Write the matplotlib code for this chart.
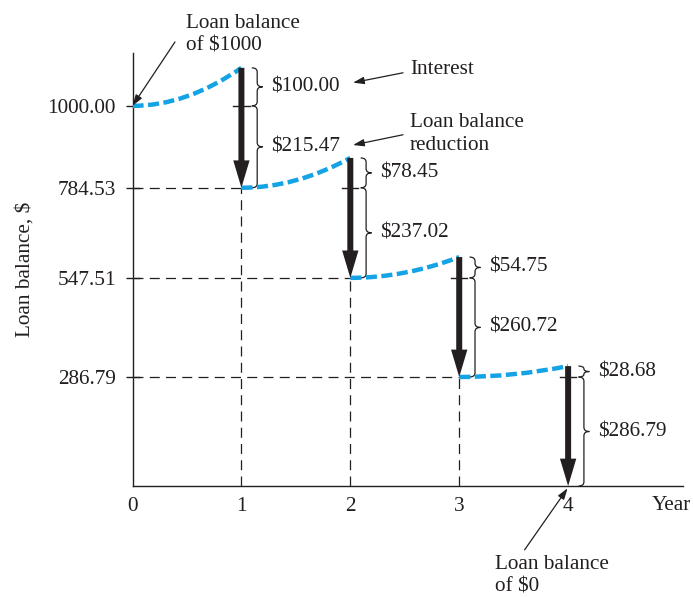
# loan balance over four years: interest accrues, each payment cuts the balance
import numpy as np
import matplotlib.pyplot as plt
from matplotlib.path import Path
from matplotlib.patches import PathPatch

plt.rcParams['font.family'] = 'Liberation Serif'
plt.rcParams['font.size'] = 15.3

years = [0, 1, 2, 3, 4]
balance = [1000.00, 784.53, 547.51, 286.79, 0.00]
interest = [100.00, 78.45, 54.75, 28.68]
reduction = [215.47, 237.02, 260.72, 286.79]
balance_labels = ['1000.00', '784.53', '547.51', '286.79']

ink = '#231f20'
blue = '#14a3e4'


def brace(ax, x, y_bot, y_top, w=0.1, r=11):
    # right-facing curly brace from y_bot to y_top at x
    r = min(r, (y_top - y_bot) / 4)
    ym = (y_top + y_bot) / 2
    xm = x + w / 2
    verts = [(x, y_top), (xm, y_top), (xm, y_top - r),
             (xm, ym + r), (xm, ym), (x + w, ym),
             (xm, ym), (xm, ym - r),
             (xm, y_bot + r), (xm, y_bot), (x, y_bot)]
    codes = [Path.MOVETO, Path.CURVE3, Path.CURVE3,
             Path.LINETO, Path.CURVE3, Path.CURVE3,
             Path.CURVE3, Path.CURVE3,
             Path.LINETO, Path.CURVE3, Path.CURVE3]
    ax.add_patch(PathPatch(Path(verts, codes), fill=False, ec=ink, lw=0.9))


fig = plt.figure(figsize=(6.93, 5.97), dpi=100)
ax = fig.add_axes([0.1912, 0.1859, 0.7944, 0.7253])
ax.set_xlim(0, 5.055)
ax.set_ylim(0, 1139)

for i in range(4):
    x0, x1 = years[i], years[i + 1]
    b0 = balance[i]
    peak = b0 + interest[i]

    # interest growth during the year
    curve = Path([(x0, b0), ((x0 + x1) / 2, b0), (x1, peak)],
                 [Path.MOVETO, Path.CURVE3, Path.CURVE3])
    ax.add_patch(PathPatch(curve, fill=False, ec=blue, lw=3.2,
                           linestyle=(0, (2.5, 1.0)), zorder=3))

    # payment at year end
    ax.arrow(x1, peak, 0, -(interest[i] + reduction[i]), width=0.055,
             head_width=0.15, head_length=72, length_includes_head=True,
             fc=ink, ec=ink, lw=0, zorder=4)

    # previous balance level across the arrow
    ax.plot([x1 - 0.075, x1 + 0.075], [b0, b0], color=ink, lw=1)

    # braces and amounts
    bx = x1 + 0.095
    brace(ax, bx, b0, peak)
    brace(ax, bx, balance[i + 1], b0)
    ax.text(x1 + 0.275, (b0 + peak) / 2, f'${interest[i]:.2f}',
            ha='left', va='center', color=ink)
    ax.text(x1 + 0.275, (balance[i + 1] + b0) / 2, f'${reduction[i]:.2f}',
            ha='left', va='center', color=ink)

    # guide lines to the axes
    if i < 3:
        ax.plot([0, x1], [balance[i + 1]] * 2, color=ink, lw=0.9,
                dashes=(8, 5))
        ax.plot([x1, x1], [0, balance[i + 1]], color=ink, lw=0.9,
                dashes=(8, 5))

# axes styling
for s in ['top', 'right']:
    ax.spines[s].set_visible(False)
for s in ['left', 'bottom']:
    ax.spines[s].set_color(ink)
    ax.spines[s].set_linewidth(1.0)

ax.set_yticks(balance[:4])
ax.set_yticklabels(balance_labels)
ax.set_xticks(years)
ax.tick_params(axis='y', direction='inout', length=10, width=1,
               color=ink, pad=7, labelcolor=ink)
ax.tick_params(axis='x', length=0, pad=8, labelcolor=ink)
ax.set_ylabel('Loan balance, $', labelpad=9, color=ink)
ax.text(4.945, -50, 'Year', ha='center', va='center', color=ink)

# callouts
arrow_kw = dict(arrowstyle='-|>,head_length=0.55,head_width=0.18',
                color=ink, lw=0.9, shrinkA=0, shrinkB=0, mutation_scale=12)

ax.text(0.49, 1187, 'Loan balance\nof $1000', ha='left', va='center',
        linespacing=1.25, color=ink)
ax.annotate('', xy=(0, 1000), xytext=(0.39, 1168), arrowprops=arrow_kw,
            annotation_clip=False)

ax.text(2.548, 1095, 'Interest', ha='left', va='center', color=ink)
ax.annotate('', xy=(2.025, 1061), xytext=(2.484, 1087), arrowprops=arrow_kw,
            annotation_clip=False)

ax.text(2.548, 926, 'Loan balance\nreduction', ha='left', va='center',
        linespacing=1.25, color=ink)
ax.annotate('', xy=(2.025, 897), xytext=(2.484, 924), arrowprops=arrow_kw,
            annotation_clip=False)

ax.text(3.33, -236, 'Loan balance\nof $0', ha='left', va='center',
        linespacing=1.25, color=ink)
ax.annotate('', xy=(3.995, -6), xytext=(3.60, -168), arrowprops=arrow_kw,
            annotation_clip=False)

fig.savefig('out.png', dpi=100)
